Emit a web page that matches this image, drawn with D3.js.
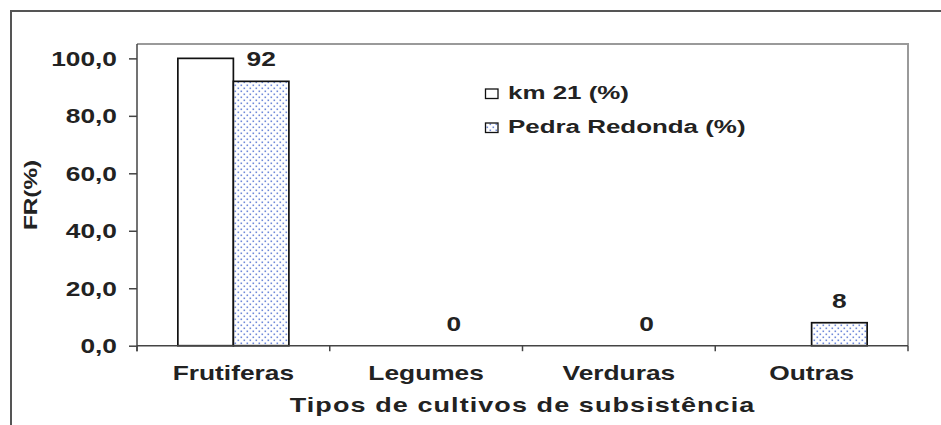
<!DOCTYPE html>
<html><head><meta charset="utf-8">
<script src="https://cdn.jsdelivr.net/npm/d3@7"></script>
<style>
html,body{margin:0;padding:0;background:#fff;}
svg{display:block;}
text{font-family:"Liberation Sans",Arial,sans-serif;font-weight:bold;fill:#222;}
</style></head>
<body>
<svg id="chart" width="941" height="425"></svg>
<script>
const categories = ["Frutiferas", "Legumes", "Verduras", "Outras"];
const km21 = [100, 0, 0, 0];
const pedraRedonda = [92, 0, 0, 8];
const seriesNames = ["km 21 (%)", "Pedra Redonda (%)"];
const yTicks = [0, 20, 40, 60, 80, 100];
const yTitle = "FR(%)";
const xTitle = "Tipos de cultivos de subsistência";

const svg = d3.select("#chart");
const SX = 1.35;
const plot = {left: 137, right: 908, top: 44, bottom: 345.7};

const defs = svg.append("defs");
const pat = defs.append("pattern").attr("id", "dots")
  .attr("patternUnits", "userSpaceOnUse").attr("width", 6).attr("height", 6);
pat.append("rect").attr("width", 6).attr("height", 6).attr("fill", "#fff");
pat.append("rect").attr("x", 0.5).attr("y", 0.5).attr("width", 1.6).attr("height", 1.6).attr("fill", "#5674d2").attr("opacity", 0.85);
pat.append("rect").attr("x", 3.5).attr("y", 3.5).attr("width", 1.6).attr("height", 1.6).attr("fill", "#5674d2").attr("opacity", 0.85);

const x = d3.scaleBand().domain(categories).range([plot.left, plot.right]).paddingInner(0).paddingOuter(0);
const x1 = d3.scaleBand().domain([0, 1]).range([0, x.bandwidth()]).paddingInner(0).paddingOuter(0.736);
const y = d3.scaleLinear().domain([0, 105]).range([plot.bottom, plot.top]);

function sText(g, tx, ty, str, size, anchor, extra) {
  const t = g.append("text")
    .attr("transform", `translate(${tx},${ty}) scale(${SX},1)`)
    .attr("text-anchor", anchor).attr("font-size", size).text(str);
  if (extra) extra(t);
  return t;
}

// outer frame (top and left only)
svg.append("path").attr("d", "M11,425 L11,11 L941,11")
  .attr("fill", "none").attr("stroke", "#555").attr("stroke-width", 2);

// plot area border top/right
svg.append("path").attr("d", `M${plot.left},${plot.top} L${plot.right},${plot.top} L${plot.right},${plot.bottom}`)
  .attr("fill", "none").attr("stroke", "#9a9a9a").attr("stroke-width", 2);

// bars
const series = [km21, pedraRedonda];
const fills = ["#fff", "url(#dots)"];
series.forEach((vals, si) => {
  svg.append("g").selectAll("rect").data(vals.map((v, i) => ({v, c: categories[i]})).filter(d => d.v > 0))
    .join("rect")
    .attr("x", d => x(d.c) + x1(si))
    .attr("y", d => y(d.v))
    .attr("width", x1.bandwidth())
    .attr("height", d => y(0) - y(d.v))
    .attr("fill", fills[si]).attr("stroke", "#111").attr("stroke-width", 1.7);
});

// y axis
const yAxis = svg.append("g").attr("transform", `translate(${plot.left},0)`)
  .call(d3.axisLeft(y).tickValues(yTicks).tickSize(8).tickSizeOuter(0)
    .tickFormat(d => d.toFixed(1).replace(".", ",")));
yAxis.select(".domain").remove();
yAxis.selectAll("line").attr("stroke", "#444").attr("stroke-width", 1.5);
yAxis.selectAll("text").attr("x", null).attr("dy", "0.36em")
  .attr("transform", `translate(-20,0) scale(${SX},1)`)
  .attr("font-size", 19.5).attr("fill", "#222")
  .attr("font-family", "Liberation Sans, Arial, sans-serif").attr("font-weight", "bold");

// axis lines
svg.append("line").attr("x1", plot.left).attr("x2", plot.left).attr("y1", plot.top).attr("y2", plot.bottom + 5.5)
  .attr("stroke", "#444").attr("stroke-width", 1.5);
svg.append("line").attr("x1", plot.left).attr("x2", plot.right).attr("y1", plot.bottom).attr("y2", plot.bottom)
  .attr("stroke", "#444").attr("stroke-width", 1.5);

// x ticks at category boundaries
const bounds = categories.map(c => x(c)).concat([x.range()[1]]);
svg.append("g").selectAll("line").data(bounds).join("line")
  .attr("x1", d => d).attr("x2", d => d).attr("y1", plot.bottom).attr("y2", plot.bottom + 5.5)
  .attr("stroke", "#444").attr("stroke-width", 1.5);

// category labels
const gl = svg.append("g");
categories.forEach(c => sText(gl, x(c) + x.bandwidth() / 2, 380, c, 19.5, "middle"));

// value labels (Pedra Redonda series)
pedraRedonda.forEach((v, i) => {
  const cx = x(categories[i]) + x1(1) + x1.bandwidth() / 2;
  sText(gl, cx, y(v) - 15, String(v), 19.5, "middle");
});

// legend
const lg = svg.append("g");
const legY = [99, 133];
seriesNames.forEach((n, i) => {
  lg.append("rect").attr("x", 485.5).attr("y", legY[i] - 10).attr("width", 12.5).attr("height", 9.5)
    .attr("fill", fills[i]).attr("stroke", "#111").attr("stroke-width", 1.3);
  sText(lg, 508, legY[i], n, 19.2, "start");
});

// axis titles
sText(svg, 37, 195, yTitle, 18, "middle", t => t.attr("transform", `translate(37,195) rotate(-90) scale(${SX},1)`));
sText(svg, 522.5, 412, xTitle, 20, "middle", t => t.attr("letter-spacing", 0.8));
</script>
</body></html>
